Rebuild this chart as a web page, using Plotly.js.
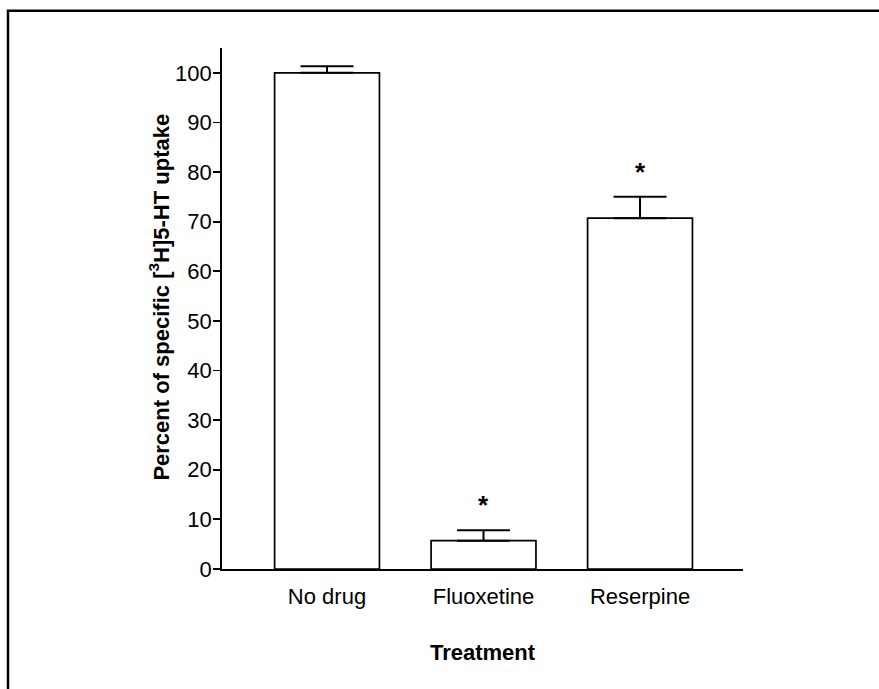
<!DOCTYPE html>
<html>
<head>
<meta charset="utf-8">
<script src="https://cdn.plot.ly/plotly-3.0.1.min.js"></script>
<style>
html,body{margin:0;padding:0;background:#fff;}
#chart{width:879px;height:689px;}
</style>
</head>
<body>
<div id="chart"></div>
<script>
// Data
var categories = ["No drug", "Fluoxetine", "Reserpine"];
var uptake = [100, 5.7, 70.7];
var sem = [1.3, 2.1, 4.3];
var significant = [false, true, true];
var yTicks = [0, 10, 20, 30, 40, 50, 60, 70, 80, 90, 100];
var xTitle = "Treatment";
var yTitle = "Percent of specific [<sup>3</sup>H]5-HT uptake";

var FONT = "Liberation Sans, Arial, Helvetica, sans-serif";
var xIdx = categories.map(function(_, i){ return i; });

var trace = {
  type: "bar",
  x: xIdx,
  y: uptake,
  width: 0.67,
  marker: {color: "#ffffff", line: {color: "#000000", width: 1.7}},
  error_y: {
    type: "data",
    symmetric: false,
    array: sem,
    arrayminus: sem.map(function(){ return 0; }),
    color: "#000000",
    thickness: 2,
    width: 26.5
  },
  hoverinfo: "none"
};

var L = 222, R = 743, T = 48.3, B = 569.5;
var W = R - L, H = B - T;
function px(x){ return (x - L) / W; }
function py(y){ return (B - y) / H; }

var annotations = [];
categories.forEach(function(c, i){
  if (significant[i]) {
    annotations.push({
      x: i, y: uptake[i] + sem[i] + 1.6,
      xref: "x", yref: "y",
      text: "<b>*</b>", showarrow: false,
      xanchor: "center", yanchor: "bottom",
      font: {family: FONT, size: 26, color: "#000"}
    });
  }
});
annotations.push({
  xref: "paper", yref: "paper",
  x: px(159), y: py(298),
  text: "<b>" + yTitle + "</b>", textangle: -90, showarrow: false,
  xanchor: "center", yanchor: "middle",
  font: {family: FONT, size: 22, color: "#000"}
});

var layout = {
  width: 879, height: 689,
  margin: {l: L, r: 879 - R, t: T, b: 689 - B, pad: 0},
  paper_bgcolor: "#ffffff",
  plot_bgcolor: "#ffffff",
  showlegend: false,
  font: {family: FONT, color: "#000"},
  xaxis: {
    range: [-0.671, 2.658],
    tickvals: xIdx,
    ticktext: categories,
    ticks: "",
    showgrid: false,
    zeroline: false,
    showline: true,
    linecolor: "#000",
    linewidth: 1.8,
    ticklabelstandoff: 7,
    tickfont: {family: FONT, size: 22, color: "#000"},
    title: {text: "<b>" + xTitle + "</b>", font: {family: FONT, size: 22, color: "#000"}, standoff: 36},
    fixedrange: true
  },
  yaxis: {
    range: [0, 105],
    tickvals: yTicks,
    ticktext: yTicks.map(String),
    ticks: "outside",
    ticklen: 7,
    tickwidth: 1.8,
    tickcolor: "#000",
    showgrid: false,
    zeroline: false,
    showline: true,
    linecolor: "#000",
    linewidth: 1.8,
    ticklabelstandoff: -3,
    tickfont: {family: FONT, size: 22, color: "#000"},
    fixedrange: true
  },
  annotations: annotations,
  shapes: [{
    type: "rect", xref: "paper", yref: "paper",
    x0: px(8), x1: px(900), y0: py(720), y1: py(11),
    line: {color: "#000", width: 2.5}, fillcolor: "rgba(0,0,0,0)", layer: "above"
  }]
};

Plotly.newPlot("chart", [trace], layout, {displayModeBar: false, staticPlot: true});
</script>
</body>
</html>
